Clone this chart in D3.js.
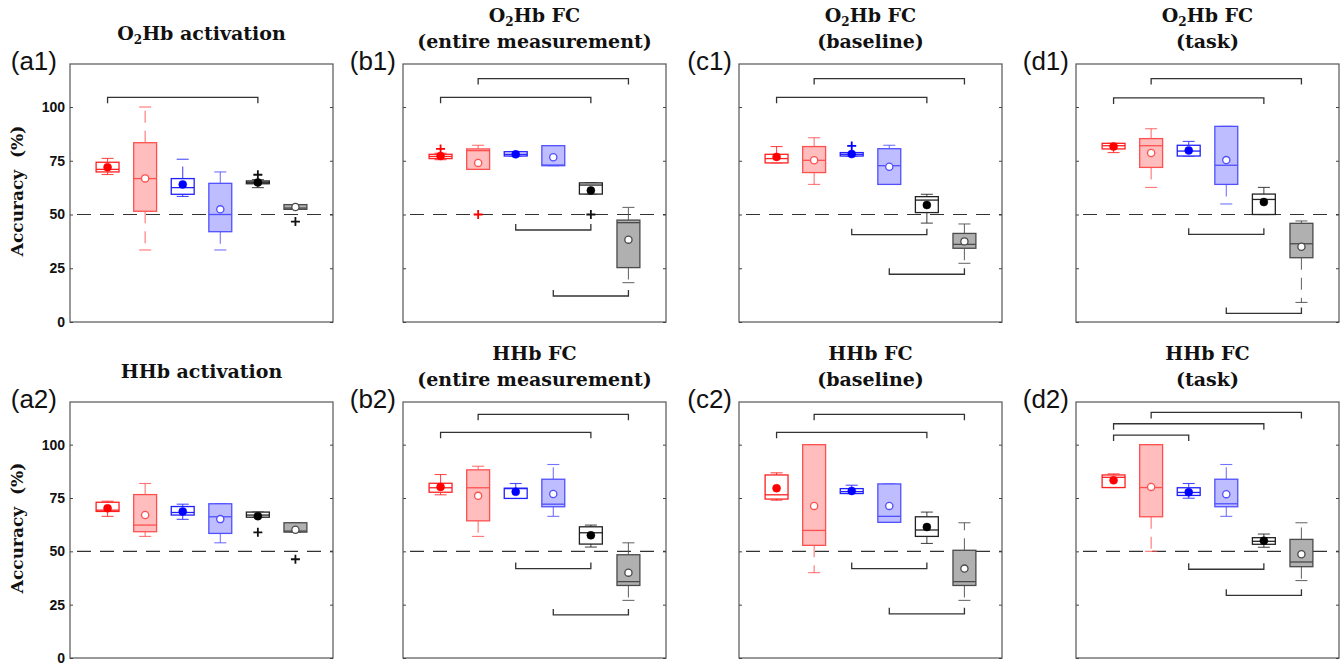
<!DOCTYPE html>
<html>
<head>
<meta charset="utf-8">
<script src="https://cdn.jsdelivr.net/npm/d3@7"></script>
<style>
  body { margin: 0; background: #fff; }
  svg { display: block; }
</style>
</head>
<body>
<svg id="chart" width="1341" height="666"></svg>
<script>
// ---------------------------------------------------------------
// Classification accuracy (%) for six feature/classifier groups,
// per signal type. Each group row: [min, q1, median, q3, max, mean]
// ---------------------------------------------------------------
const panelIds = ["a1", "b1", "c1", "d1", "a2", "b2", "c2", "d2"];
const panelTitles = [
  ["O|2|Hb activation"],
  ["O|2|Hb FC", "(entire measurement)"],
  ["O|2|Hb FC", "(baseline)"],
  ["O|2|Hb FC", "(task)"],
  ["HHb activation"],
  ["HHb FC", "(entire measurement)"],
  ["HHb FC", "(baseline)"],
  ["HHb FC", "(task)"]
];
const yTicks = [0, 25, 50, 75, 100];
const yDomain = [0, 120];
const chanceLevel = 50;
const groups = [1, 2, 3, 4, 5, 6];

const statsA1 = [
  [68.6, 69.8, 71.0, 74.3, 76.1, 72.0],
  [33.5, 51.5, 66.7, 83.4, 100, 66.8],
  [58.4, 59.4, 62.5, 66.7, 75.7, 64.0],
  [33.5, 42.0, 50.0, 64.5, 69.8, 52.4],
  [62.5, 64.3, 65.0, 65.6, 66.2, 64.9],
  [52.4, 52.4, 53.0, 54.6, 54.6, 53.5]
];
const statsB1 = [
  [75.5, 76.0, 77.0, 78.0, 78.5, 77.2],
  [71.0, 71.0, 79.7, 80.5, 82.2, 74.0],
  [77.2, 77.2, 78.0, 79.2, 79.2, 78.0],
  [72.7, 72.7, 73.0, 82.0, 82.0, 76.6],
  [59.5, 59.5, 63.7, 64.7, 64.7, 61.2],
  [18.3, 25.3, 46.2, 47.4, 53.3, 38.3]
];
const statsC1 = [
  [74.0, 74.0, 76.0, 78.0, 81.6, 76.8],
  [64.0, 69.5, 75.2, 81.6, 85.7, 75.2],
  [77.2, 77.2, 78.0, 78.8, 78.8, 78.1],
  [64.0, 64.0, 72.7, 80.6, 82.2, 72.2],
  [46.0, 50.9, 56.7, 58.3, 59.4, 54.4],
  [27.3, 34.3, 36.1, 41.2, 45.6, 37.5]
];
const statsD1 = [
  [78.8, 80.5, 82.0, 83.1, 83.1, 81.6],
  [62.6, 71.9, 82.0, 85.3, 89.9, 78.6],
  [77.2, 77.2, 79.5, 82.2, 84.0, 79.8],
  [54.9, 64.0, 72.9, 91.0, 91.0, 75.3],
  [50.0, 50.0, 57.0, 59.5, 62.6, 55.8],
  [9.1, 29.9, 36.4, 45.9, 47.0, 35.0]
];
const statsA2 = [
  [66.4, 68.7, 69.3, 73.0, 73.5, 70.2],
  [57.0, 59.2, 62.3, 76.6, 81.8, 67.0],
  [65.0, 67.0, 68.2, 71.0, 72.1, 68.7],
  [54.0, 58.4, 66.2, 72.3, 72.3, 65.1],
  [66.0, 66.0, 67.0, 68.4, 68.4, 66.5],
  [59.0, 59.0, 59.5, 63.4, 63.4, 60.1]
];
const statsB2 = [
  [76.5, 77.7, 79.8, 81.9, 86.0, 80.2],
  [57.0, 64.3, 79.8, 88.2, 89.9, 76.0],
  [74.8, 74.8, 79.4, 79.6, 81.8, 77.9],
  [66.4, 70.9, 72.1, 83.8, 90.7, 76.9],
  [52.0, 53.4, 58.7, 61.5, 62.3, 57.5],
  [27.0, 34.0, 35.8, 48.4, 54.0, 40.0]
];
const statsC2 = [
  [74.0, 74.5, 76.5, 85.8, 86.8, 79.6],
  [40.0, 52.8, 59.8, 100, 100, 71.3],
  [77.1, 77.1, 78.0, 79.4, 81.0, 78.3],
  [63.6, 63.6, 66.4, 81.6, 81.6, 71.3],
  [53.7, 57.0, 60.0, 66.2, 68.4, 61.4],
  [27.0, 34.0, 35.8, 50.5, 63.4, 41.9]
];
const statsD2 = [
  [79.9, 79.9, 84.7, 85.8, 86.3, 83.3],
  [50.0, 66.2, 79.9, 100, 100, 80.2],
  [74.9, 76.2, 77.6, 79.8, 81.8, 77.7],
  [66.4, 70.9, 72.3, 83.8, 90.7, 76.8],
  [51.9, 53.3, 54.7, 56.4, 58.1, 55.0],
  [36.3, 42.8, 45.0, 55.6, 63.4, 48.6]
];

// outliers: [group, value]
const outliersA1 = [[5, 68.5], [6, 46.7]];
const outliersB1 = [[1, 80.5], [2, 50.0], [5, 50.0]];
const outliersC1 = [[3, 81.9]];
const outliersD1 = [];
const outliersA2 = [[5, 58.9], [6, 46.3]];
const outliersB2 = [];
const outliersC2 = [];
const outliersD2 = [];

// significance brackets: [fromGroup, toGroup, level (%), side]
const bracketsA1 = [[1, 5, 104.5, "above"]];
const bracketsB1 = [[2, 6, 113.2, "above"], [1, 5, 104.5, "above"], [3, 5, 42.8, "below"], [4, 6, 12.1, "below"]];
const bracketsC1 = [[2, 6, 113.2, "above"], [1, 5, 104.5, "above"], [3, 5, 40.6, "below"], [4, 6, 22.2, "below"]];
const bracketsD1 = [[2, 6, 113.2, "above"], [1, 5, 104.2, "above"], [3, 5, 40.8, "below"], [4, 6, 4.0, "below"]];
const bracketsA2 = [];
const bracketsB2 = [[2, 6, 114.2, "above"], [1, 5, 105.8, "above"], [3, 5, 41.9, "below"], [4, 6, 20.2, "below"]];
const bracketsC2 = [[2, 6, 114.2, "above"], [1, 5, 105.8, "above"], [3, 5, 41.9, "below"], [4, 6, 20.7, "below"]];
const bracketsD2 = [[2, 6, 115.1, "above"], [1, 5, 109.8, "above"], [1, 3, 104.5, "above"], [3, 5, 41.6, "below"], [4, 6, 29.4, "below"]];

const panelStats = [statsA1, statsB1, statsC1, statsD1, statsA2, statsB2, statsC2, statsD2];
const panelOutliers = [outliersA1, outliersB1, outliersC1, outliersD1, outliersA2, outliersB2, outliersC2, outliersD2];
const panelBrackets = [bracketsA1, bracketsB1, bracketsC1, bracketsD1, bracketsA2, bracketsB2, bracketsC2, bracketsD2];

// ---------------------------------------------------------------
// Styling and layout
// ---------------------------------------------------------------
const groupStroke = ["#ff2020", "#ff5050", "#2020ff", "#5050ff", "#222222", "#4a4a4a"];
const groupFill   = ["#ffffff", "#ffbdbd", "#ffffff", "#bdbdff", "#ffffff", "#b0b0b0"];
const groupMarker = ["#ff0000", "#ffffff", "#0000ff", "#ffffff", "#000000", "#ffffff"];
const outlierColor = ["#ff0000", "#ff0000", "#0000ff", "#0000ff", "#111111", "#111111"];

const colLeft = [70, 403, 739, 1076];
const panelWidth = 263;
const rowTop = [64, 402];
const rowBottom = [322, 658];

const serif = "'DejaVu Serif', serif";
const sans = "'Liberation Sans', Arial, sans-serif";

const svg = d3.select("#chart");

panelIds.forEach((id, p) => {
  const col = p % 4, row = Math.floor(p / 4);
  const x0 = colLeft[col], x1 = x0 + panelWidth;
  const top = rowTop[row], bottom = rowBottom[row];

  const x = d3.scaleLinear().domain([0, 7]).range([x0, x1]);
  const y = d3.scaleLinear().domain(yDomain).range([bottom, top]);
  const boxW = x(0.61) - x(0);
  const capW = x(0.32) - x(0);

  const g = svg.append("g").attr("class", "panel panel-" + id);

  // chance level
  g.append("line")
    .attr("x1", x0).attr("x2", x1)
    .attr("y1", y(chanceLevel)).attr("y2", y(chanceLevel))
    .attr("stroke", "#333").attr("stroke-width", 1.2)
    .attr("stroke-dasharray", "14,9").attr("stroke-dashoffset", 16);

  // boxes
  const stats = panelStats[p];
  stats.forEach((s, i) => {
    const [mn, q1, med, q3, mx, mean] = s;
    const cx = x(groups[i]);
    const col = groupStroke[i];
    const bg = g.append("g").attr("class", "box");

    // whiskers (dashed) and caps
    if (mx > q3) {
      bg.append("line").attr("x1", cx).attr("x2", cx).attr("y1", y(q3)).attr("y2", y(mx))
        .attr("stroke", col).attr("stroke-opacity", 0.8).attr("stroke-width", 1.1)
        .attr("stroke-dasharray", "12,8");
    }
    if (mn < q1) {
      bg.append("line").attr("x1", cx).attr("x2", cx).attr("y1", y(q1)).attr("y2", y(mn))
        .attr("stroke", col).attr("stroke-opacity", 0.8).attr("stroke-width", 1.1)
        .attr("stroke-dasharray", "12,8");
    }
    [mn, mx].forEach(v => {
      bg.append("line").attr("x1", cx - capW / 2).attr("x2", cx + capW / 2)
        .attr("y1", y(v)).attr("y2", y(v))
        .attr("stroke", col).attr("stroke-opacity", 0.8).attr("stroke-width", 1.1);
    });

    // box
    bg.append("rect")
      .attr("x", cx - boxW / 2).attr("width", boxW)
      .attr("y", y(q3)).attr("height", Math.max(1, y(q1) - y(q3)))
      .attr("fill", groupFill[i]).attr("stroke", col).attr("stroke-width", 1.3);
    // median
    bg.append("line").attr("x1", cx - boxW / 2).attr("x2", cx + boxW / 2)
      .attr("y1", y(med)).attr("y2", y(med))
      .attr("stroke", col).attr("stroke-width", 1.3);
    // mean
    const filled = groupMarker[i] !== "#ffffff";
    bg.append("circle").attr("cx", cx).attr("cy", y(mean))
      .attr("r", filled ? 4 : 3.6)
      .attr("fill", groupMarker[i])
      .attr("stroke", filled ? groupMarker[i] : col)
      .attr("stroke-width", filled ? 0.5 : 1.3);
  });

  // outliers
  panelOutliers[p].forEach(([gi, v]) => {
    const cx = x(gi), cy = y(v), h = 4.5;
    g.append("path")
      .attr("d", `M${cx - h},${cy}H${cx + h}M${cx},${cy - h}V${cy + h}`)
      .attr("stroke", outlierColor[gi - 1]).attr("stroke-width", 1.8).attr("fill", "none");
  });

  // significance brackets
  panelBrackets[p].forEach(([a, b, lvl, side]) => {
    const yy = y(lvl), dir = side === "above" ? 6 : -6;
    g.append("path")
      .attr("d", `M${x(a)},${yy + dir}V${yy}H${x(b)}V${yy + dir}`)
      .attr("fill", "none").attr("stroke", "#333").attr("stroke-width", 1.3);
  });

  // frame
  g.append("rect").attr("x", x0).attr("y", top).attr("width", panelWidth).attr("height", bottom - top)
    .attr("fill", "none").attr("stroke", "#555").attr("stroke-width", 1.2);

  // inward ticks on both sides
  const leftAxis = d3.axisRight(y).tickValues(yTicks).tickSize(3).tickFormat("");
  const rightAxis = d3.axisLeft(y).tickValues(yTicks).tickSize(3).tickFormat("");
  g.append("g").attr("transform", `translate(${x0},0)`).call(leftAxis)
    .call(a => a.select(".domain").remove())
    .call(a => a.selectAll("line").attr("stroke", "#444"));
  g.append("g").attr("transform", `translate(${x1},0)`).call(rightAxis)
    .call(a => a.select(".domain").remove())
    .call(a => a.selectAll("line").attr("stroke", "#444"));

  // tick labels and axis title on the first column
  if (col === 0) {
    const labelAxis = d3.axisLeft(y).tickValues(yTicks).tickSize(0).tickPadding(5);
    g.append("g").attr("transform", `translate(${x0},0)`).call(labelAxis)
      .call(a => a.select(".domain").remove())
      .call(a => a.selectAll("text")
        .attr("font-family", sans).attr("font-weight", "bold")
        .attr("font-size", 14).attr("fill", "#111"));
    g.append("text")
      .attr("transform", `translate(23,${(top + bottom) / 2 - 2}) rotate(-90)`)
      .attr("text-anchor", "middle")
      .attr("font-family", serif).attr("font-weight", "bold").attr("font-size", 17)
      .attr("fill", "#111")
      .attr("xml:space", "preserve")
      .text("Accuracy  (%)");
  }

  // panel label
  g.append("text")
    .attr("x", x0 - (col === 0 ? 13 : 7)).attr("y", top + 6)
    .attr("text-anchor", "end")
    .attr("font-family", sans).attr("font-size", 26).attr("fill", "#111")
    .text("(" + id + ")");

  // title (segments split by "|" mark a subscript)
  const lines = panelTitles[p];
  const cxTitle = (x0 + x1) / 2;
  const baselines = lines.length === 1 ? [top - 24] : [top - 42, top - 16];
  lines.forEach((ln, li) => {
    const t = g.append("text")
      .attr("x", cxTitle).attr("y", baselines[li])
      .attr("text-anchor", "middle")
      .attr("font-family", serif).attr("font-weight", "bold").attr("font-size", 19)
      .attr("fill", "#111");
    const parts = ln.split("|");
    if (parts.length === 3) {
      t.append("tspan").text(parts[0]);
      t.append("tspan").attr("dy", 4).attr("font-size", 12).text(parts[1]);
      t.append("tspan").attr("dy", -4).text(parts[2]);
    } else {
      t.text(ln);
    }
  });
});
</script>
</body>
</html>
